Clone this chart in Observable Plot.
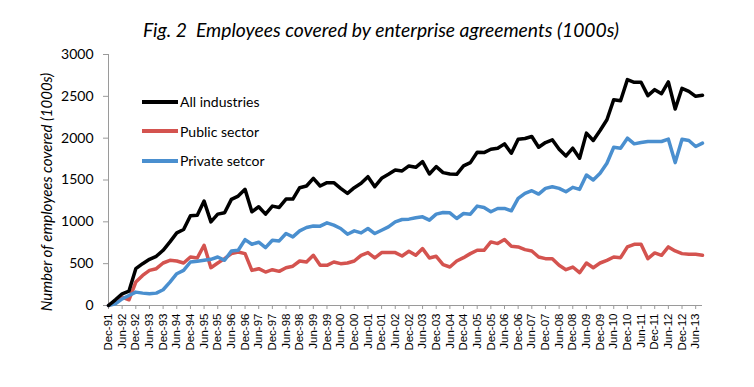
<!DOCTYPE html>
<html>
<head>
<meta charset="utf-8">
<script src="https://cdn.jsdelivr.net/npm/d3@7"></script>
<script src="https://cdn.jsdelivr.net/npm/@observablehq/plot@0.6"></script>
<style>
  html, body { margin: 0; padding: 0; background: #fff; }
  #wrap { position: relative; width: 754px; height: 387px; overflow: hidden; }
  #title { position: absolute; left: 4px; top: 20px; width: 754px; text-align: center;
    font: italic 19.3px Lato, sans-serif; color: #000; line-height: 1; }
  #ylabel { position: absolute; left: -104px; top: 184px; width: 300px; text-align: center;
    font: italic 15px Lato, sans-serif; color: #000; line-height: 16px; transform: rotate(-90deg); }
  #legend { position: absolute; left: 142px; top: 87px; font: 14px Lato, sans-serif; color: #000; }
  .item { display: flex; align-items: center; height: 29.5px; }
  .swatch { width: 36px; height: 4px; margin-right: 2px; }
  svg [aria-label^="x-axis"] text { font: 11.5px "Liberation Sans", Arial, sans-serif; fill: #000; }
  svg [aria-label^="y-axis"] text { font: 14px Lato, sans-serif; fill: #000; }
  svg [aria-label^="x-axis"] line, svg [aria-label^="x-axis"] path,
  svg [aria-label^="y-axis"] line, svg [aria-label^="y-axis"] path { stroke: #9a9a9a; }
</style>
</head>
<body>
<div id="wrap">
  <div id="title">Fig. 2&nbsp; Employees covered by enterprise agreements (1000s)</div>
  <div id="ylabel">Number of employees covered (1000s)</div>
  <div id="legend"></div>
</div>
<script>
// Quarterly categories, Dec-91 to Sep-13
const monthNames = ["Dec", "Mar", "Jun", "Sep"];
const quarters = d3.range(88).map(i => monthNames[i % 4] + "-" + String((91 + Math.floor((i + 3) / 4)) % 100).padStart(2, "0"));
const tickLabels = quarters.filter((d, i) => i % 2 === 0);

const seriesNames = ["All industries", "Public sector", "Private setcor"];
const seriesColors = ["#000000", "#d4534f", "#4a8fcf"];

const allIndustries = [0,68,140,172,440,500,552,588,660,760,
868,908,1072,1080,1248,1000,1092,1108,1268,1308,
1388,1120,1180,1092,1188,1172,1272,1272,1408,1428,
1520,1428,1468,1468,1400,1340,1408,1460,1540,1420,
1520,1568,1620,1608,1668,1652,1720,1572,1660,1588,
1572,1568,1668,1708,1832,1828,1868,1880,1932,1820,
1988,1996,2020,1892,1948,1980,1868,1788,1880,1760,
2060,1972,2092,2220,2460,2448,2700,2668,2668,2508,
2580,2532,2672,2348,2596,2560,2500,2512];

const publicSector = [0,52,100,68,280,360,420,440,508,540,
532,508,580,568,720,452,508,560,620,640,
620,420,440,400,428,408,452,470,532,520,
600,480,480,520,500,508,532,600,632,568,
632,632,632,592,648,600,680,568,588,488,
460,532,572,620,660,660,760,740,788,708,
700,668,652,580,560,560,480,428,460,392,
508,452,508,540,580,572,700,732,732,560,
628,600,700,652,620,612,612,600];

const privateSector = [0,20,80,120,160,148,140,148,188,280,
380,420,520,528,540,552,580,540,652,660,
788,732,756,692,780,772,860,820,892,932,
950,948,988,960,920,852,892,868,920,860,
900,940,1000,1028,1032,1048,1060,1020,1092,1112,
1108,1040,1100,1092,1188,1172,1120,1160,1160,1132,
1280,1340,1372,1332,1400,1420,1400,1360,1412,1388,
1560,1500,1580,1700,1892,1880,2000,1932,1948,1960,
1960,1960,1988,1708,1988,1972,1900,1940];

const yTicks = [0, 500, 1000, 1500, 2000, 2500, 3000];

const seriesValues = [allIndustries, publicSector, privateSector];
const rows = seriesNames.flatMap((s, k) => quarters.map((q, i) => ({q, s, v: seriesValues[k][i]})));

const chart = Plot.plot({
  width: 754,
  height: 387,
  marginLeft: 108,
  marginRight: 52,
  marginTop: 54,
  marginBottom: 82,
  style: {background: "transparent", overflow: "visible"},
  x: {type: "point", domain: quarters, padding: 0, ticks: tickLabels, tickRotate: -90,
      tickSize: 4, tickPadding: 4, label: null},
  y: {domain: [0, 3000], ticks: yTicks, tickFormat: d => String(d), tickSize: 5, tickPadding: 10, label: null},
  color: {domain: seriesNames, range: seriesColors},
  marks: [
    Plot.ruleY([0], {stroke: "#9a9a9a", strokeWidth: 1}),
    Plot.ruleX([quarters[0]], {stroke: "#9a9a9a", strokeWidth: 1}),
    Plot.line(rows.filter(d => d.s === seriesNames[1]), {x: "q", y: "v", stroke: "s", strokeWidth: 3.5, strokeLinejoin: "round"}),
    Plot.line(rows.filter(d => d.s === seriesNames[2]), {x: "q", y: "v", stroke: "s", strokeWidth: 3.5, strokeLinejoin: "round"}),
    Plot.line(rows.filter(d => d.s === seriesNames[0]), {x: "q", y: "v", stroke: "s", strokeWidth: 3.5, strokeLinejoin: "round"})
  ]
});
chart.style.position = "absolute";
chart.style.left = "0px";
chart.style.top = "0px";
document.getElementById("wrap").prepend(chart);

const legend = document.getElementById("legend");
seriesNames.forEach((name, k) => {
  const item = document.createElement("div");
  item.className = "item";
  const sw = document.createElement("span");
  sw.className = "swatch";
  sw.style.background = seriesColors[k];
  const label = document.createElement("span");
  label.textContent = name;
  item.appendChild(sw);
  item.appendChild(label);
  legend.appendChild(item);
});
</script>
</body>
</html>
